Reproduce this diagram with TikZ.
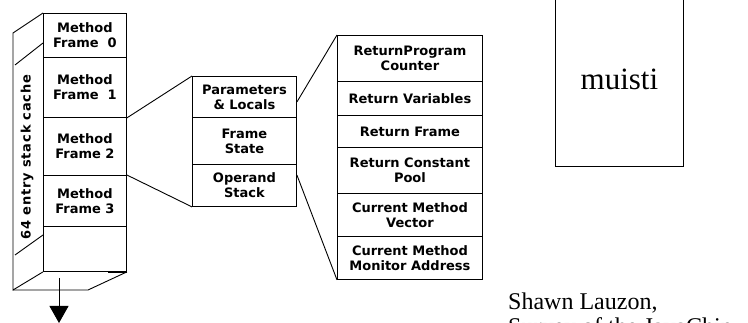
\documentclass[tikz,border=0pt]{standalone}
\usepackage{fontspec}
\setmainfont{Liberation Serif}
\newfontfamily\boxfont{DejaVu Sans}
\usetikzlibrary{arrows.meta,calc}

\tikzset{
  edge/.style={line width=0.9pt, black},
  cell/.style={draw, edge, rectangle, inner sep=0pt, anchor=north west,
    align=center, font=\boxfont\bfseries\fontsize{13}{15}\selectfont},
  tightcell/.style={cell, font=\boxfont\bfseries\fontsize{13}{11.5}\selectfont},
  stackcell/.style={cell, minimum width=83pt},
  framecell/.style={cell, minimum width=104pt},
  retcell/.style={cell, minimum width=145pt},
}

\begin{document}
\begin{tikzpicture}[x=1pt, y=-1pt]
\useasboundingbox (0,0) rectangle (748,323);
\clip (0,0) rectangle (748,323);

% stack cache: front face, one cell per method frame
\node[stackcell, minimum height=44pt] (f0) at (43,13)  {Method\\Frame\ \ 0};
\node[stackcell, minimum height=60pt] (f1) at (43,57)  {Method\\Frame\ \ 1};
\node[stackcell, minimum height=58pt] (f2) at (43,117) {Method\\Frame 2};
\node[stackcell, minimum height=51pt] (f3) at (43,175) {Method\\Frame 3};
\node[stackcell, minimum height=45pt] (f4) at (43,226) {};

% stack cache: side and bottom faces
\coordinate (backtop) at (13,33);
\coordinate (backbot) at (13,290);
\coordinate (backbr)  at (88,290);
\draw[edge] (f0.north west) -- (backtop) -- (backbot) -- (f4.south west);
\draw[edge] (backbot) -- (backbr) -- (f4.south east);
\draw[edge] (43,43) -- (15,65);
\draw[edge] (43,235) -- (15,255);
\draw[line width=2pt] ([xshift=-19pt]f4.south east) -- (f4.south east);

\node[rotate=90, font=\boxfont\bfseries\fontsize{13}{15}\selectfont\addfontfeature{LetterSpace=6}]
  (cachelabel) at (27,157) {64 entry stack cache};

% stack grows downward
\coordinate (arrowtop) at (59,278);
\coordinate (arrowend) at (59,323);
\draw[edge, -{Triangle[width=19pt, length=17pt]}] (arrowtop) -- (arrowend);

% one method frame, expanded
\node[tightcell, framecell, minimum height=41pt] (m0) at (192,76)  {Parameters\\\& Locals};
\node[framecell, minimum height=47pt]            (m1) at (192,117) {Frame\\State};
\node[tightcell, framecell, minimum height=42pt] (m2) at (192,164) {Operand\\Stack};

% frame state, expanded
\node[retcell, minimum height=46pt] (r0) at (337,35)  {ReturnProgram\\Counter};
\node[retcell, minimum height=34pt] (r1) at (337,81)  {Return Variables};
\node[retcell, minimum height=32pt] (r2) at (337,115) {Return Frame};
\node[retcell, minimum height=46pt] (r3) at (337,147) {Return Constant\\Pool};
\node[retcell, minimum height=43pt] (r4) at (337,193) {Current Method\\Vector};
\node[retcell, minimum height=43pt] (r5) at (337,236) {Current Method\\Monitor Address};

% zoom lines
\draw[edge] (f1.south east) -- (m0.north west);
\draw[edge] (f3.north east) -- (m2.south west);
\draw[edge] ($(m0.north east)+(0,26)$) -- (r0.north west);
\draw[edge] ($(m2.north east)+(0,11)$) -- (r5.south west);

% memory
\node[draw, edge, minimum width=128pt, minimum height=175pt, inner sep=0pt,
  anchor=south west, font=\fontsize{31}{33}\selectfont] (mem) at (555,167) {muisti};

% credit
\node[anchor=base west, inner sep=0pt, font=\fontsize{24}{25}\selectfont]
  (author) at (508,310) {Shawn Lauzon,};
\node[anchor=base west, inner sep=0pt, font=\fontsize{24}{25}\selectfont]
  (survey) at ([yshift=-25pt]author.base west) {Survey of the JavaChip};
\end{tikzpicture}
\end{document}
